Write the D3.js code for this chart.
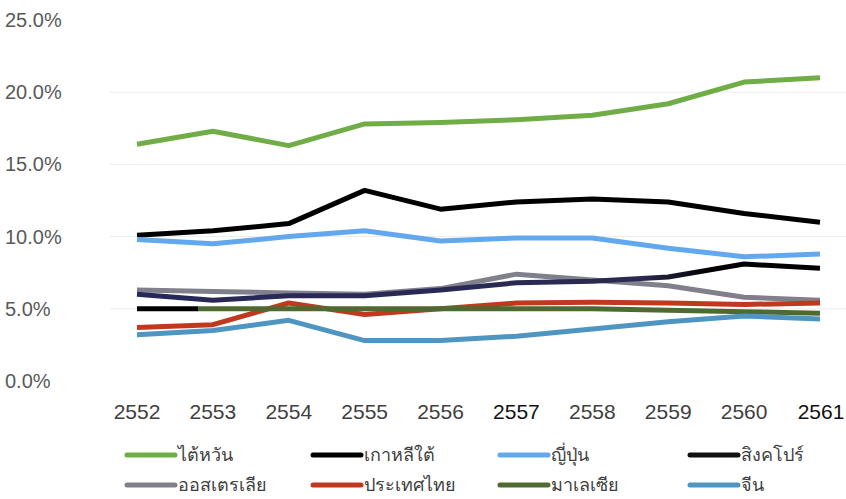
<!doctype html>
<html>
<head>
<meta charset="utf-8">
<title>Share chart</title>
<script src="https://d3js.org/d3.v7.min.js"></script>
<style>
  body { margin: 0; background: #fff; }
  svg { display: block; }
  .ylab { font: 20px "Liberation Sans", Arial, sans-serif; fill: #595959; }
  .xlab { font: 21px "Liberation Sans", Arial, sans-serif; fill: #404040; }
  .leg { font: 18px "Noto Sans", "DejaVu Sans", sans-serif; fill: #404040; }
</style>
</head>
<body>
<div id="chart"></div>
<script>
const years = ["2552", "2553", "2554", "2555", "2556", "2557", "2558", "2559", "2560", "2561"];
const yTicks = [0, 5, 10, 15, 20, 25];

const taiwan    = [16.4, 17.3, 16.3, 17.8, 17.9, 18.1, 18.4, 19.2, 20.7, 21.0];
const korea     = [10.1, 10.4, 10.9, 13.2, 11.9, 12.4, 12.6, 12.4, 11.6, 11.0];
const japan     = [9.8, 9.5, 10.0, 10.4, 9.7, 9.9, 9.9, 9.2, 8.6, 8.8];
const singapore = [6.0, 5.6, 5.9, 5.9, 6.3, 6.8, 6.9, 7.2, 8.1, 7.8];
const australia = [6.3, 6.2, 6.1, 6.0, 6.4, 7.4, 7.0, 6.6, 5.8, 5.6];
const thailand  = [3.7, 3.9, 5.4, 4.6, 5.0, 5.4, 5.45, 5.4, 5.3, 5.4];
const malaysia  = [5.0, 5.0, 5.0, 5.0, 5.0, 5.0, 5.0, 4.9, 4.8, 4.7];
const china     = [3.2, 3.5, 4.2, 2.8, 2.8, 3.1, 3.6, 4.1, 4.5, 4.3];

const names = ["ไต้หวัน", "เกาหลีใต้", "ญี่ปุ่น", "สิงคโปร์", "ออสเตรเลีย", "ประเทศไทย", "มาเลเซีย", "จีน"];
const seriesValues = [taiwan, korea, japan, singapore, australia, thailand, malaysia, china];
const colors = ["#70ad47", "#000000", "#62a8ee", "#111111", "#80808c", "#c0391f", "#4f6a30", "#4f95c2"];

// draw order (back to front)
const drawOrder = [0, 1, 2, 4, 3, 5, 6, 7];

const W = 846, H = 499;
const svg = d3.select("#chart").append("svg").attr("width", W).attr("height", H);

const x = d3.scalePoint().domain(years).range([137, 820]);
const y = d3.scaleLinear().domain([0, 25]).range([381, 20]);

// gridlines
svg.append("g")
  .selectAll("line")
  .data(yTicks.filter(d => d > 0 && d < 25))
  .enter().append("line")
  .attr("x1", 110).attr("x2", W)
  .attr("y1", d => y(d)).attr("y2", d => y(d))
  .attr("stroke", "#ececec").attr("stroke-width", 1);

// y labels
svg.append("g")
  .selectAll("text")
  .data(yTicks)
  .enter().append("text")
  .attr("class", "ylab")
  .attr("x", 5)
  .attr("y", d => y(d))
  .attr("dy", "0.35em")
  .text(d => d.toFixed(1) + "%");

// x labels
svg.append("g")
  .selectAll("text")
  .data(years)
  .enter().append("text")
  .attr("class", "xlab")
  .attr("x", d => x(d) + (d === "2561" ? 1 : 0))
  .attr("y", 412)
  .attr("dy", "0.35em")
  .attr("text-anchor", "middle")
  .style("fill", d => (d === "2557" || d === "2561") ? "#111" : null)
  .text(d => d);

// the singapore line fades from navy to black, malaysia starts black
const defs = svg.append("defs");
const gSing = defs.append("linearGradient").attr("id", "gSing")
  .attr("gradientUnits", "userSpaceOnUse")
  .attr("x1", x("2552")).attr("x2", x("2561")).attr("y1", 0).attr("y2", 0);
gSing.append("stop").attr("offset", "0%").attr("stop-color", "#27285a");
gSing.append("stop").attr("offset", "74%").attr("stop-color", "#2a2a50");
gSing.append("stop").attr("offset", "84%").attr("stop-color", "#000");
gSing.append("stop").attr("offset", "100%").attr("stop-color", "#000");

const gMal = defs.append("linearGradient").attr("id", "gMal")
  .attr("gradientUnits", "userSpaceOnUse")
  .attr("x1", x("2552")).attr("x2", x("2561")).attr("y1", 0).attr("y2", 0);
gMal.append("stop").attr("offset", "0%").attr("stop-color", "#000");
gMal.append("stop").attr("offset", "9%").attr("stop-color", "#000");
gMal.append("stop").attr("offset", "9%").attr("stop-color", "#4f6a30");
gMal.append("stop").attr("offset", "100%").attr("stop-color", "#4f6a30");

const line = d3.line()
  .x((d, i) => x(years[i]))
  .y(d => y(d));

svg.append("g")
  .selectAll("path")
  .data(drawOrder)
  .enter().append("path")
  .attr("d", i => line(seriesValues[i]))
  .attr("fill", "none")
  .attr("stroke", i => i === 3 ? "url(#gSing)" : i === 6 ? "url(#gMal)" : colors[i])
  .attr("stroke-width", 5)
  .attr("stroke-linejoin", "round");

// legend
const legX = [127, 313, 500, 690];
const legY = [455, 485];
const legend = svg.append("g")
  .selectAll("g")
  .data(names)
  .enter().append("g")
  .attr("transform", (d, i) => "translate(" + legX[i % 4] + "," + legY[Math.floor(i / 4)] + ")");

legend.append("line")
  .attr("x1", 0).attr("x2", 48)
  .attr("stroke", (d, i) => colors[i])
  .attr("stroke-width", 5)
  .attr("stroke-linecap", "round");

legend.append("text")
  .attr("class", "leg")
  .attr("x", 51)
  .attr("dy", "0.35em")
  .text(d => d);
</script>
</body>
</html>
